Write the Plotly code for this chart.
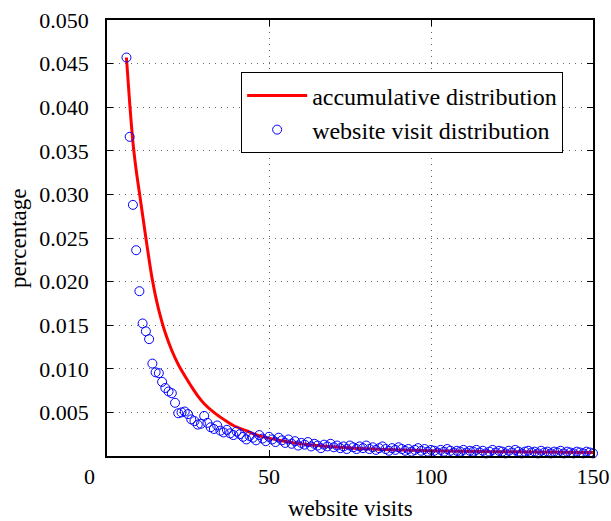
import plotly.graph_objects as go

# --- data ---
visits = list(range(6, 151))
visit_share = [
    0.0457, 0.0366, 0.0288, 0.0236, 0.0189, 0.0152, 0.0143, 0.0134, 0.0106, 0.0096,  # 6-15
    0.0095, 0.0085, 0.0078, 0.0074, 0.0072, 0.0061, 0.0049, 0.0050, 0.0051, 0.0048,  # 16-25
    0.0042, 0.0040, 0.0036, 0.0037, 0.0046, 0.0038, 0.0033, 0.0031, 0.0035, 0.0029,  # 26-35
    0.0027, 0.0030, 0.0026, 0.0024, 0.0028, 0.0025, 0.0022, 0.0019, 0.0023, 0.0021,  # 36-45
    0.0018, 0.0024, 0.0020, 0.0017, 0.0022, 0.0019, 0.0016, 0.0021, 0.0018, 0.0015,  # 46-55
    0.0019, 0.0014, 0.0017, 0.0012, 0.0015, 0.0013, 0.0016, 0.0011, 0.0014, 0.0012,  # 56-65
    0.0009, 0.0013, 0.0011, 0.0014, 0.0010, 0.0012, 0.0009, 0.0011, 0.0008, 0.0012,  # 66-75
    0.0010, 0.0008, 0.0011, 0.0009, 0.0012, 0.0008, 0.0010, 0.0007, 0.0009, 0.0011,  # 76-85
    0.0008, 0.0006, 0.0009, 0.0007, 0.0010, 0.0008, 0.0006, 0.0008, 0.0005, 0.0007,  # 86-95
    0.0009, 0.0006, 0.0008, 0.0005, 0.0007, 0.0006, 0.0004, 0.0007, 0.0005, 0.0008,  # 96-105
    0.0006, 0.0004, 0.0006, 0.0005, 0.0007, 0.0004, 0.0006, 0.0005, 0.0007, 0.0004,  # 106-115
    0.0006, 0.0003, 0.0005, 0.0007, 0.0004, 0.0006, 0.0005, 0.0003, 0.0006, 0.0004,  # 116-125
    0.0007, 0.0005, 0.0003, 0.0005, 0.0006, 0.0004, 0.0005, 0.0003, 0.0006, 0.0004,  # 126-135
    0.0005, 0.0003, 0.0005, 0.0004, 0.0006, 0.0003, 0.0005, 0.0004, 0.0003, 0.0005,  # 136-145
    0.0004, 0.0003, 0.0005, 0.0004, 0.0003,                                          # 146-150
]

curve_x = [6, 7, 8, 9, 10, 11, 12, 13, 14, 15, 16, 18, 20, 22, 24, 26, 28, 30, 33, 36,
           39, 43, 47, 52, 58, 65, 75, 85, 100, 120, 150]
curve_y = [0.0457, 0.0405, 0.0360, 0.0328, 0.0302, 0.0276, 0.0250, 0.0225, 0.0202,
           0.0183, 0.0167, 0.0141, 0.0121, 0.0105, 0.0092, 0.0080, 0.0069, 0.0060,
           0.0050, 0.0042, 0.0035, 0.0029, 0.0023, 0.0019, 0.0015, 0.0012, 0.00092,
           0.00075, 0.0006, 0.0005, 0.0004]

x_ticks = [50, 100, 150]
y_ticks = [0.005, 0.010, 0.015, 0.020, 0.025, 0.030, 0.035, 0.040, 0.045, 0.050]

FONT = "Liberation Serif"
TICK_SIZE = 22
TEXT_SIZE = 24

fig = go.Figure()
fig.add_trace(go.Scatter(
    x=curve_x, y=curve_y, mode="lines", name="accumulative distribution",
    line=dict(color="#ff0000", width=3, shape="spline", smoothing=1.0),
))
fig.add_trace(go.Scatter(
    x=visits, y=visit_share, mode="markers", name="website visit distribution",
    marker=dict(symbol="circle-open", size=9, color="#0000ff", line=dict(width=1, color="#0000ff")),
    cliponaxis=False,
))

axis_common = dict(
    showline=True, linecolor="black", linewidth=1.5, mirror="ticks",
    ticks="inside", ticklen=6, tickcolor="black", tickwidth=1,
    showgrid=True, gridcolor="rgba(0,0,0,0.6)", gridwidth=1, griddash="1px,5px",
    zeroline=False, automargin=False,
    tickfont=dict(family=FONT, size=TICK_SIZE, color="black"),
)

fig.update_xaxes(range=[0, 150], tickvals=x_ticks, ticklabelstandoff=0, **axis_common)
fig.update_yaxes(range=[0, 0.05], tickvals=y_ticks, tickformat=".3f",
                 ticklabelstandoff=12, **axis_common)

# lone "0" tick label at the lower-left corner
fig.add_annotation(
    text="0", xref="paper", yref="paper", x=-0.02, y=-0.048,
    xanchor="right", yanchor="middle", showarrow=False,
    font=dict(family=FONT, size=TICK_SIZE, color="black"),
)
# axis titles
fig.add_annotation(
    text="website visits", xref="paper", yref="paper", x=0.5, y=-0.12,
    xanchor="center", yanchor="middle", showarrow=False,
    font=dict(family=FONT, size=TEXT_SIZE - 1, color="black"),
)
fig.add_annotation(
    text="percentage", xref="paper", yref="paper", x=-0.183, y=0.5,
    xanchor="center", yanchor="middle", showarrow=False, textangle=-90,
    font=dict(family=FONT, size=TEXT_SIZE - 1, color="black"),
)

fig.update_layout(
    width=611, height=521,
    margin=dict(l=107, r=18, t=20, b=65),
    paper_bgcolor="white", plot_bgcolor="white",
    font=dict(family=FONT, size=TICK_SIZE, color="black"),
    showlegend=True,
    legend=dict(
        x=0.276, y=0.88, xanchor="left", yanchor="top",
        bgcolor="white", bordercolor="black", borderwidth=1,
        font=dict(family=FONT, size=TEXT_SIZE, color="black"),
        itemwidth=60, tracegroupgap=0,
    ),
)

fig.write_html("out.html", config={"displayModeBar": False},
               post_script="document.body.style.margin='0';")
